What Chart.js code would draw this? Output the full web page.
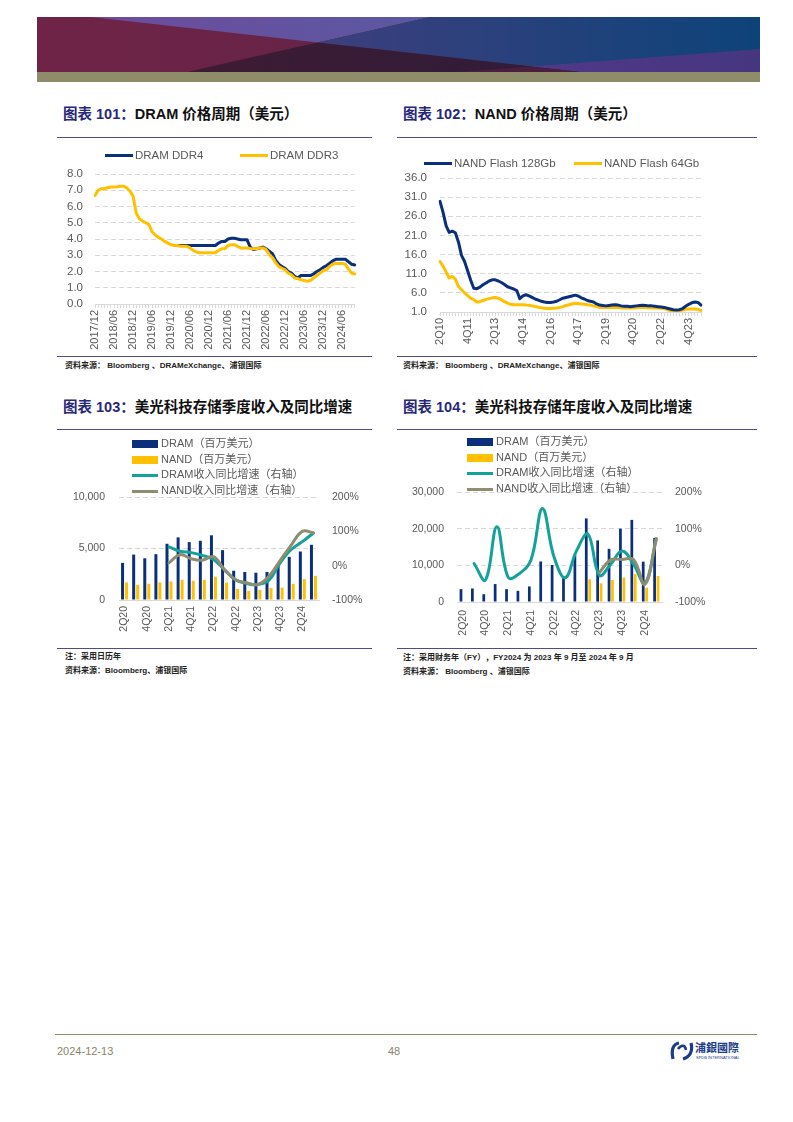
<!DOCTYPE html>
<html lang="zh-CN">
<head>
<meta charset="utf-8">
<title>DRAM / NAND 价格周期与美光科技存储收入</title>
<script src="https://cdn.jsdelivr.net/npm/chart.js@4.4.1/dist/chart.umd.min.js"></script>
<style>
  html, body { margin: 0; padding: 0; background: #fff; }
  body { width: 793px; height: 1122px; position: relative; overflow: hidden;
    font-family: "Liberation Sans", Arial, "Noto Sans CJK SC", sans-serif; }
  .abs { position: absolute; }
  .title { position: absolute; font-size: 14.5px; font-weight: bold; color: #111; white-space: nowrap;
    line-height: 16px; font-family: "Liberation Sans", "Noto Sans CJK SC", sans-serif; }
  .title .no { color: #27287a; }
  .rule { position: absolute; height: 1px; background: #4d4c86; }
  .src { position: absolute; font-size: 8px; line-height: 10px; font-weight: bold; color: #222; white-space: nowrap;
    font-family: "Liberation Sans", "Noto Sans CJK SC", sans-serif; }
  canvas { position: absolute; }
  .lg { position: absolute; font-size: 11.5px; color: #595959; white-space: nowrap; line-height: 14px;
    font-family: "Liberation Sans", "Noto Sans CJK SC", sans-serif; }
  .lg i { position: absolute; display: block; }
  .stack { position: absolute; font-size: 11px; color: #595959; z-index: 2;
    font-family: "Liberation Sans", "Noto Sans CJK SC", sans-serif; }
  .stack div { position: relative; height: 15.5px; line-height: 15.5px; white-space: nowrap; padding-left: 29px; }
  .stack i { position: absolute; left: 0; display: block; width: 26px; }
  .foot { position: absolute; font-size: 11px; color: #8a8468; line-height: 12px; }
</style>
</head>
<body>

<!-- header banner -->
<svg class="abs" style="left:37px;top:17px" width="723" height="65" viewBox="0 0 723 65">
  <defs>
    <linearGradient id="gLeft" x1="0" x2="1"><stop offset="0" stop-color="#6f2447"/><stop offset="1" stop-color="#5a2247"/></linearGradient>
    <linearGradient id="gTop" x1="0" x2="1"><stop offset="0" stop-color="#6e4c9c"/><stop offset="1" stop-color="#5a58a2"/></linearGradient>
    <linearGradient id="gRight" x1="0" x2="1"><stop offset="0" stop-color="#3d3f7e"/><stop offset="1" stop-color="#0d4379"/></linearGradient>
    <linearGradient id="gLow" x1="0" x2="1"><stop offset="0" stop-color="#3f1b33"/><stop offset="1" stop-color="#2e1c3a"/></linearGradient>
    <linearGradient id="gWedge" x1="0" x2="1"><stop offset="0" stop-color="#503889"/><stop offset="1" stop-color="#463680"/></linearGradient>
  </defs>
  <rect x="0" y="0" width="723" height="55" fill="url(#gLeft)"/>
  <polygon points="54,0 393,0 280.6,25.4" fill="url(#gTop)"/>
  <polygon points="393,0 723,0 723,55 544,55 280.6,25.4" fill="url(#gRight)"/>
  <polygon points="150,55 280.6,25.4 544,55" fill="url(#gLow)"/>
  <polygon points="494,49.4 723,32 723,55 544,55" fill="url(#gWedge)"/>
  <polygon points="420,55 494,49.4 544,55" fill="#4b1d3e"/>
  <rect x="0" y="55" width="723" height="10" fill="#8f8d69"/>
</svg>

<!-- titles -->
<div class="title" style="left:63px;top:106px"><span class="no">图表 101：</span>DRAM 价格周期（美元）</div>
<div class="title" style="left:403px;top:106px"><span class="no">图表 102：</span>NAND 价格周期（美元）</div>
<div class="title" style="left:63px;top:399px"><span class="no">图表 103：</span>美光科技存储季度收入及同比增速</div>
<div class="title" style="left:403px;top:399px"><span class="no">图表 104：</span>美光科技存储年度收入及同比增速</div>

<div class="rule" style="left:57px;top:137px;width:315px"></div>
<div class="rule" style="left:397px;top:137px;width:360px"></div>
<div class="rule" style="left:57px;top:356px;width:315px"></div>
<div class="rule" style="left:397px;top:356px;width:360px"></div>
<div class="rule" style="left:57px;top:429px;width:315px"></div>
<div class="rule" style="left:397px;top:429px;width:360px"></div>
<div class="rule" style="left:57px;top:648px;width:315px"></div>
<div class="rule" style="left:397px;top:648px;width:360px"></div>

<!-- charts -->
<canvas id="c101" width="313" height="215" style="left:57px;top:140px;width:313px;height:215px"></canvas>
<canvas id="c102" width="360" height="215" style="left:397px;top:140px;width:360px;height:215px"></canvas>
<canvas id="c103" width="313" height="215" style="left:57px;top:432px;width:313px;height:215px"></canvas>
<canvas id="c104" width="360" height="215" style="left:397px;top:432px;width:360px;height:215px"></canvas>

<!-- legends -->
<div class="lg" style="left:105px;top:148px;width:240px;height:14px">
  <i style="left:0;top:6px;width:28px;height:3px;background:#0b2f7a"></i><span style="position:absolute;left:30px">DRAM DDR4</span>
  <i style="left:135px;top:6px;width:28px;height:3px;background:#ffc000"></i><span style="position:absolute;left:165px">DRAM DDR3</span>
</div>
<div class="lg" style="left:424px;top:156px;width:290px;height:14px">
  <i style="left:0;top:6px;width:28px;height:3px;background:#0b2f7a"></i><span style="position:absolute;left:30px">NAND Flash 128Gb</span>
  <i style="left:150px;top:6px;width:28px;height:3px;background:#ffc000"></i><span style="position:absolute;left:180px">NAND Flash 64Gb</span>
</div>
<div class="stack" style="left:132px;top:436px">
  <div><i style="top:4px;height:8px;background:#0b2f7a"></i>DRAM（百万美元）</div>
  <div><i style="top:4px;height:8px;background:#ffc000"></i>NAND（百万美元）</div>
  <div><i style="top:7px;height:3px;background:#14a19b"></i>DRAM收入同比增速（右轴）</div>
  <div><i style="top:7px;height:3px;background:#8f8d70"></i>NAND收入同比增速（右轴）</div>
</div>
<div class="stack" style="left:467px;top:434px">
  <div><i style="top:4px;height:8px;background:#0b2f7a"></i>DRAM（百万美元）</div>
  <div><i style="top:4px;height:8px;background:#ffc000"></i>NAND（百万美元）</div>
  <div><i style="top:7px;height:3px;background:#14a19b"></i>DRAM收入同比增速（右轴）</div>
  <div><i style="top:7px;height:3px;background:#8f8d70"></i>NAND收入同比增速（右轴）</div>
</div>

<!-- sources -->
<div class="src" style="left:65px;top:361px">资料来源： Bloomberg 、DRAMeXchange、浦银国际</div>
<div class="src" style="left:403px;top:361px">资料来源： Bloomberg 、DRAMeXchange、浦银国际</div>
<div class="src" style="left:65px;top:652px">注：采用日历年</div>
<div class="src" style="left:65px;top:666px">资料来源：Bloomberg、浦银国际</div>
<div class="src" style="left:403px;top:653px">注：采用财务年（FY），FY2024 为 2023 年 9 月至 2024 年 9 月</div>
<div class="src" style="left:403px;top:667px">资料来源： Bloomberg 、浦银国际</div>

<!-- footer -->
<div class="abs" style="left:55px;top:1034px;width:702px;height:1px;background:#8e8b62"></div>
<div class="foot" style="left:57px;top:1045px">2024-12-13</div>
<div class="foot" style="left:388px;top:1045px">48</div>
<svg class="abs" style="left:670px;top:1041px" width="24" height="20" viewBox="0 0 24 20">
  <path d="M9 2 C3 3 1 9 3 18" fill="none" stroke="#1b3c86" stroke-width="3.2"/>
  <path d="M8 8 C11 4 15 3 16 9" fill="none" stroke="#1b3c86" stroke-width="2.6"/>
  <path d="M21 2 C23 10 20 16 13 18" fill="none" stroke="#1b3c86" stroke-width="3.2"/>
</svg>
<div class="abs" style="left:695px;top:1041px;font-size:11px;line-height:12px;font-weight:bold;color:#1b3c86;font-family:'Noto Sans CJK TC','Noto Sans CJK SC',sans-serif">浦銀國際</div>
<div class="abs" style="left:696px;top:1055px;font-size:4px;line-height:5px;color:#1b3c86;white-space:nowrap">SPDB INTERNATIONAL</div>

<script>
// ---- chart 101 : DRAM prices, monthly 2017/12 - 2024/10
const ddrTickEvery = 6;
const ddr4Price = [
  null, null, null, null, null, null, null, null, null, null,
  null, null, null, null, null, null, null, null, null, null,
  null, null, null, null, null, null,
  3.6, 3.6, 3.6, 3.6, 3.6, 3.6, 3.6, 3.6, 3.6, 3.6, 3.6, 3.6, 3.6,
  3.75, 3.85, 3.85, 4.0, 4.05, 4.05, 4.0, 3.95, 3.95, 3.95, 3.5,
  3.35, 3.4, 3.45, 3.5, 3.4, 3.25, 3.1, 2.7, 2.45, 2.3,
  2.2, 2.0, 1.9, 1.7, 1.6, 1.75, 1.75, 1.75, 1.75, 1.85,
  2.0, 2.1, 2.25, 2.35, 2.5, 2.65, 2.75, 2.75, 2.75, 2.75,
  2.6, 2.45, 2.4
];
const ddr3Price = [
  6.68, 7.0, 7.1, 7.1, 7.15, 7.2, 7.2, 7.22, 7.25, 7.25,
  7.15, 6.95, 6.65, 5.6, 5.25, 5.1, 5.0, 4.9, 4.45, 4.25,
  4.1, 4.0, 3.85, 3.75, 3.65, 3.6, 3.6, 3.55, 3.55, 3.55,
  3.45, 3.3, 3.2, 3.15, 3.15, 3.15, 3.15, 3.15, 3.15, 3.3,
  3.4, 3.4, 3.6, 3.65, 3.65, 3.55, 3.45, 3.45, 3.45, 3.42,
  3.4, 3.4, 3.45, 3.45, 3.35, 3.05, 2.85, 2.55, 2.3, 2.2,
  2.1, 1.9, 1.8, 1.6, 1.55, 1.5, 1.45, 1.4, 1.45, 1.6,
  1.75, 1.9, 2.05, 2.1, 2.3, 2.45, 2.5, 2.5, 2.5, 2.45,
  2.15, 1.9, 1.85
];

// ---- chart 102 : NAND prices, one point every two months from 2Q10
const nandTicks = ["2Q10", "4Q11", "2Q13", "4Q14", "2Q16", "4Q17", "2Q19", "4Q20", "2Q22", "4Q23"];
const nandTickEvery = 9;
const nand128Price = [
  29.9, 27.0, 23.5, 21.8, 22.1, 21.7, 19.3, 15.8, 14.2, 11.8,
  9.3, 7.2, 7.1, 7.5, 8.1, 8.6, 9.1, 9.4, 9.4, 9.1,
  8.7, 8.2, 7.6, 7.3, 7.0, 6.6, 4.5, 5.2, 5.5, 5.2,
  4.8, 4.4, 4.1, 3.8, 3.6, 3.5, 3.5, 3.6, 3.8, 4.2,
  4.6, 4.8, 5.0, 5.2, 5.4, 5.2, 4.7, 4.4, 4.0, 3.8,
  3.6, 3.1, 2.8, 2.7, 2.6, 2.7, 2.8, 2.9, 2.8, 2.6,
  2.5, 2.5, 2.4, 2.5, 2.6, 2.7, 2.75, 2.7, 2.6, 2.6,
  2.5, 2.4, 2.3, 2.2, 2.0, 1.8, 1.6, 1.5, 1.6, 1.9,
  2.5, 3.0, 3.4, 3.6, 3.5, 2.8
];
const nand64Price = [
  14.2, 13.0, 11.4, 9.9, 10.3, 9.6, 7.7, 6.8, 6.0, 5.3,
  4.6, 4.2, 3.6, 3.7, 4.0, 4.3, 4.5, 4.7, 4.8, 4.6,
  4.2, 3.7, 3.3, 3.0, 2.9, 2.9, 2.9, 2.9, 2.8, 2.75,
  2.6, 2.45, 2.25, 2.1, 2.0, 1.9, 1.9, 2.0, 2.05, 2.2,
  2.4, 2.7, 2.9, 3.1, 3.3, 3.2, 3.1, 3.0, 2.9, 2.8,
  2.6, 2.4, 2.2, 2.2, 2.2, 2.2, 2.2, 2.2, 2.2, 2.1,
  2.05, 2.05, 2.05, 2.05, 2.1, 2.15, 2.2, 2.15, 2.1, 2.1,
  2.05, 2.05, 2.0, 1.9, 1.6, 1.4, 1.3, 1.2, 1.3, 1.5,
  1.7, 1.8, 1.8, 1.8, 1.7, 1.4
];

// ---- charts 103 / 104 : Micron storage revenue
const quarters = ["2Q20", "3Q20", "4Q20", "1Q21", "2Q21", "3Q21", "4Q21", "1Q22", "2Q22",
  "3Q22", "4Q22", "1Q23", "2Q23", "3Q23", "4Q23", "1Q24", "2Q24", "3Q24"];
const qDram = [3600, 4410, 4050, 4450, 5460, 6080, 5620, 5750, 6280, 4840, 2840, 2720, 2650, 2720, 3400, 4190, 4710, 5360];
const qNand = [1700, 1470, 1570, 1700, 1800, 1960, 1860, 1960, 2260, 1700, 1080, 880, 980, 1180, 1210, 1570, 2030, 2350];
const qDramYoy = [null, null, null, null, 55, 42, 38, 30, 18, -12, -42, -52, -55, -42, 8, 47, 70, 95];
const qNandYoy = [null, null, null, null, 8, 32, 20, 16, 26, -12, -41, -50, -55, -31, 15, 60, 100, 96];

const yDram = [3500, 3690, 2120, 4890, 3500, 3040, 4240, 11060, 10100, 7000, 12900, 22800, 16800, 14500, 20000, 22400, 11000, 17500];
const yNand = [null, null, null, null, null, null, null, null, null, null, null, 6200, 5100, 6000, 6700, 7600, 3900, 7100];
const yDramYoy = [null, 5, -40, 105, -33, -22, 15, 155, 25, -34, 40, 85, -27, 3, 39, 3, -49, 72];
const yNandYoy = [null, null, null, null, null, null, null, null, null, null, null, null, -20, 15, 16, 16, -52, 73];

// colours
const NAVY = "#0b2f7a";
const GOLD = "#ffc000";
const TEAL = "#14a19b";
const OLIVE = "#8f8d70";
const GRID = "#d9d9d9";
const TICK = "#595959";
const FONT = "'Liberation Sans', Arial, sans-serif";

// category labels
function monthLabels(year, month, count) {
  const out = [];
  for (let i = 0; i < count; i++) {
    out.push(year + "/" + String(month).padStart(2, "0"));
    month++;
    if (month > 12) { month = 1; year++; }
  }
  return out;
}
const ddrMonths = monthLabels(2017, 12, ddr3Price.length);
const nandPeriods = nand128Price.map((v, i) => (i % nandTickEvery === 0 ? nandTicks[i / nandTickEvery] : ""));

Chart.defaults.font.family = FONT;
Chart.defaults.color = TICK;

function lineSet(label, data, color, order, tension) {
  return {
    type: "line", label, data, borderColor: color, backgroundColor: color,
    borderWidth: 3, pointRadius: 0, tension: tension || 0, order,
    borderJoinStyle: "round", borderCapStyle: "round", yAxisID: "y"
  };
}

// Price chart (101 / 102)
function priceChart(id, labels, datasets, cfg) {
  return new Chart(document.getElementById(id), {
    type: "line",
    data: { labels, datasets },
    options: {
      responsive: false,
      animation: false,
      devicePixelRatio: 1,
      layout: { padding: { top: cfg.top, right: cfg.right, left: 0, bottom: 0 } },
      plugins: { legend: { display: false }, tooltip: { enabled: false } },
      scales: {
        x: {
          grid: { display: true, drawOnChartArea: false, drawTicks: true, tickLength: 4, color: GRID },
          border: { display: true, color: GRID },
          ticks: {
            autoSkip: false, maxRotation: 90, minRotation: 90, padding: 2,
            font: { size: 11 }, color: TICK,
            callback: (v, i) => (i % cfg.every === 0 ? labels[i] : "")
          },
          afterFit: (s) => { s.height = cfg.xHeight; }
        },
        y: {
          min: cfg.min, max: cfg.max,
          ticks: { stepSize: cfg.step, autoSkip: false, padding: cfg.yPad, font: { size: 11.5 }, color: TICK,
            callback: (v) => Number(v).toFixed(1) },
          grid: { color: GRID, drawTicks: false, borderDash: [5, 3] },
          border: { display: false, dash: [5, 3] },
          afterFit: (s) => { s.width = cfg.yWidth; }
        }
      }
    }
  });
}

priceChart("c101", ddrMonths, [
  lineSet("DRAM DDR4", ddr4Price, NAVY, 1),
  lineSet("DRAM DDR3", ddr3Price, GOLD, 0)
], { top: 34, right: 15, min: 0, max: 8, step: 1, every: ddrTickEvery, xHeight: 51, yWidth: 38, yPad: 12 });

priceChart("c102", nandPeriods, [
  lineSet("NAND Flash 128Gb", nand128Price, NAVY, 0),
  lineSet("NAND Flash 64Gb", nand64Price, GOLD, 1)
], { top: 38, right: 56, min: 1, max: 36, step: 5, every: nandTickEvery, xHeight: 43, yWidth: 43, yPad: 13 });

// Revenue chart (103 / 104)
function revenueChart(id, dram, nand, dramYoy, nandYoy, cfg) {
  const yoy = (label, data, color, order) => Object.assign(lineSet(label, data, color, order, 0.4), { yAxisID: "y1" });
  return new Chart(document.getElementById(id), {
    type: "bar",
    data: {
      labels: quarters,
      datasets: [
        { type: "bar", label: "DRAM（百万美元）", data: dram, backgroundColor: NAVY, order: 2,
          categoryPercentage: cfg.catPct, barPercentage: cfg.barPct, yAxisID: "y" },
        { type: "bar", label: "NAND（百万美元）", data: nand, backgroundColor: GOLD, order: 2,
          categoryPercentage: cfg.catPct, barPercentage: cfg.barPct, yAxisID: "y" },
        yoy("DRAM收入同比增速（右轴）", dramYoy, TEAL, 1),
        yoy("NAND收入同比增速（右轴）", nandYoy, OLIVE, 0)
      ]
    },
    options: {
      responsive: false,
      animation: false,
      devicePixelRatio: 1,
      layout: { padding: { top: cfg.top, right: 0, left: 0, bottom: 0 } },
      plugins: { legend: { display: false }, tooltip: { enabled: false } },
      scales: {
        x: {
          grid: { display: false, drawTicks: false },
          border: { display: true, color: GRID },
          ticks: {
            autoSkip: false, maxRotation: 90, minRotation: 90, padding: cfg.xPad,
            font: { size: 10.5 }, color: TICK,
            callback: (v, i) => (i % 2 === 0 ? quarters[i] : "")
          },
          afterFit: (s) => { s.height = cfg.xHeight; }
        },
        y: {
          position: "left", min: 0, max: cfg.max,
          ticks: { stepSize: cfg.step, autoSkip: false, padding: cfg.yPad, font: { size: 10.5 }, color: TICK,
            callback: (v) => Number(v).toLocaleString("en-US") },
          grid: { color: GRID, drawTicks: false, borderDash: [5, 3] },
          border: { display: false, dash: [5, 3] },
          afterFit: (s) => { s.width = cfg.yWidth; }
        },
        y1: {
          position: "right", min: -100, max: 200,
          ticks: { stepSize: 100, autoSkip: false, padding: cfg.y1Pad, font: { size: 10.5 }, color: TICK,
            callback: (v) => v + "%" },
          grid: { display: false, drawTicks: false },
          border: { display: false },
          afterFit: (s) => { s.width = cfg.y1Width; }
        }
      }
    }
  });
}

revenueChart("c103", qDram, qNand, qDramYoy, qNandYoy,
  { top: 65, max: 10000, step: 5000, catPct: 0.72, barPct: 0.75, xPad: 6, xHeight: 47,
    yWidth: 62, yPad: 14, y1Width: 51, y1Pad: 13 });

revenueChart("c104", yDram, yNand, yDramYoy, yNandYoy,
  { top: 60, max: 30000, step: 10000, catPct: 0.6, barPct: 0.8, xPad: 8, xHeight: 45,
    yWidth: 60, yPad: 13, y1Width: 95, y1Pad: 13 });
</script>
</body>
</html>
